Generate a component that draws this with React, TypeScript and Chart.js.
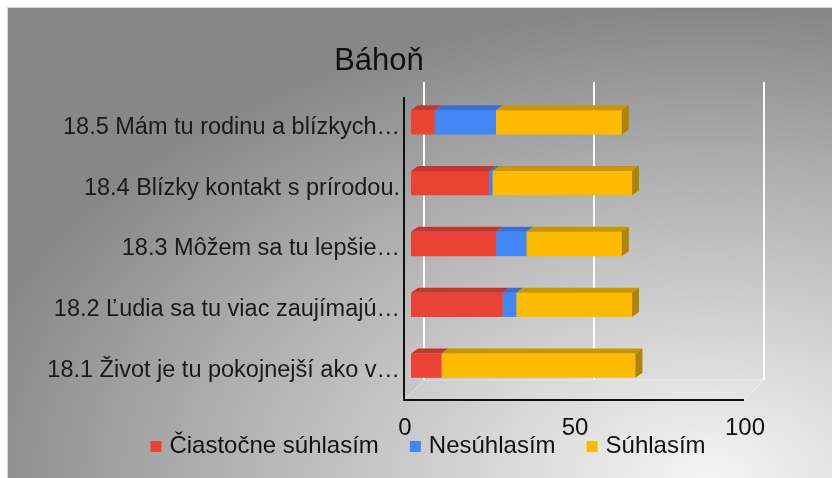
import React, { useEffect, useRef } from 'react';
import { Chart, registerables } from 'chart.js';

Chart.register(...registerables);

const TITLE = 'Báhoň';
const CATEGORIES = [
  '18.5 Mám tu rodinu a blízkych…',
  '18.4 Blízky kontakt s prírodou.',
  '18.3 Môžem sa tu lepšie…',
  '18.2 Ľudia sa tu viac zaujímajú…',
  '18.1 Život je tu pokojnejší ako v…',
];
const SERIES_NAMES = ['Čiastočne súhlasím', 'Nesúhlasím', 'Súhlasím'];
const PARTLY_AGREE = [7, 23, 25, 27, 9];
const DISAGREE = [18, 1, 9, 4, 0];
const AGREE = [37, 41, 28, 34, 57];
const X_TICKS = [0, 50, 100];

const FRONT = ['#EA4335', '#4285F4', '#FDBB00'];
const TOPC = ['#C2362B', '#3670D2', '#C99600'];
const SIDE = ['#A52D24', '#2C5CB0', '#B08300'];
const FONT = '"Liberation Sans", Arial, sans-serif';

const threeD = {
  id: 'threeD',
  beforeDatasetsDraw(chart: any) {
    const { ctx, chartArea: a, scales } = chart;
    const x = scales.x;
    const p0 = x.getPixelForValue(0);
    const p1 = x.getPixelForValue(100);
    ctx.save();
    // floor
    ctx.beginPath();
    ctx.moveTo(p0 - 7, a.bottom + 4);
    ctx.lineTo(p1 - 7, a.bottom + 4);
    ctx.lineTo(p1 + 13, a.bottom - 16);
    ctx.lineTo(p0 + 13, a.bottom - 16);
    ctx.closePath();
    ctx.fillStyle = 'rgba(255,255,255,0.1)';
    ctx.fill();
    ctx.strokeStyle = 'rgba(255,255,255,0.4)';
    ctx.lineWidth = 1;
    ctx.stroke();
    // left wall edge
    ctx.beginPath();
    ctx.moveTo(p0 + 13, a.top - 10);
    ctx.lineTo(p0 + 13, a.bottom - 16);
    ctx.stroke();
    // back wall gridlines
    ctx.strokeStyle = 'rgba(255,255,255,0.95)';
    ctx.lineWidth = 2;
    X_TICKS.forEach((v) => {
      const px = Math.round(x.getPixelForValue(v) + 13);
      ctx.beginPath();
      ctx.moveTo(px, a.top - 10);
      ctx.lineTo(px, a.bottom - 16);
      ctx.stroke();
    });
    ctx.restore();
  },
  afterDatasetsDraw(chart: any) {
    const { ctx, chartArea: a, scales } = chart;
    const x = scales.x;
    const DX = 7, DY = -5;
    ctx.save();
    const n = chart.data.labels.length;
    for (let j = 0; j < n; j++) {
      let lastIdx = -1;
      chart.data.datasets.forEach((ds: any, i: number) => {
        const el: any = chart.getDatasetMeta(i).data[j];
        const b = el.base, e = el.x;
        if (e - b < 0.5) return;
        lastIdx = i;
        const ty = el.y - el.height / 2;
        ctx.beginPath();
        ctx.moveTo(b, ty);
        ctx.lineTo(e, ty);
        ctx.lineTo(e + DX, ty + DY);
        ctx.lineTo(b + DX, ty + DY);
        ctx.closePath();
        ctx.fillStyle = TOPC[i];
        ctx.fill();
      });
      if (lastIdx >= 0) {
        const el: any = chart.getDatasetMeta(lastIdx).data[j];
        const e = el.x;
        const ty = el.y - el.height / 2;
        const by = el.y + el.height / 2;
        ctx.beginPath();
        ctx.moveTo(e, ty);
        ctx.lineTo(e + DX, ty + DY);
        ctx.lineTo(e + DX, by + DY);
        ctx.lineTo(e, by);
        ctx.closePath();
        ctx.fillStyle = SIDE[lastIdx];
        ctx.fill();
      }
    }
    // front axis lines
    const p0 = x.getPixelForValue(0) - 7;
    const p1 = x.getPixelForValue(100) - 7;
    ctx.strokeStyle = '#111';
    ctx.lineWidth = 2;
    ctx.beginPath();
    ctx.moveTo(p0, a.top + 5);
    ctx.lineTo(p0, a.bottom + 4);
    ctx.lineTo(p1, a.bottom + 4);
    ctx.stroke();
    // x tick labels
    ctx.fillStyle = '#111';
    ctx.font = `24px ${FONT}`;
    ctx.textAlign = 'center';
    ctx.textBaseline = 'alphabetic';
    X_TICKS.forEach((v) => {
      ctx.fillText(String(v), x.getPixelForValue(v) - 6, a.bottom + 39);
    });
    ctx.restore();
  },
  afterDraw(chart: any) {
    const { ctx, chartArea: a } = chart;
    ctx.save();
    // title
    ctx.fillStyle = '#111';
    ctx.font = `31px ${FONT}`;
    ctx.textAlign = 'center';
    ctx.textBaseline = 'alphabetic';
    ctx.fillText(TITLE, 371, 62);
    // legend
    ctx.font = `24px ${FONT}`;
    ctx.textAlign = 'left';
    const box = 11, gap = 8, spacing = 31;
    const items = chart.data.datasets.map((ds: any, i: number) => ({
      label: ds.label,
      color: FRONT[i],
      w: ctx.measureText(ds.label).width,
    }));
    const total = items.reduce((s: number, it: any) => s + box + gap + it.w, 0) + spacing * (items.length - 1);
    let cx = 420 - total / 2;
    const base = a.bottom + 57;
    items.forEach((it: any) => {
      ctx.fillStyle = it.color;
      ctx.fillRect(cx, base - 12, box, box);
      ctx.fillStyle = '#111';
      ctx.fillText(it.label, cx + box + gap, base);
      cx += box + gap + it.w + spacing;
    });
    ctx.restore();
  },
};

export default function App() {
  const ref = useRef<HTMLCanvasElement | null>(null);
  useEffect(() => {
    document.documentElement.style.overflow = 'hidden';
    if (!ref.current) return;
    const chart = new Chart(ref.current, {
      type: 'bar',
      data: {
        labels: CATEGORIES,
        datasets: [
          { label: SERIES_NAMES[0], data: PARTLY_AGREE, backgroundColor: FRONT[0] },
          { label: SERIES_NAMES[1], data: DISAGREE, backgroundColor: FRONT[1] },
          { label: SERIES_NAMES[2], data: AGREE, backgroundColor: FRONT[2] },
        ],
      },
      options: {
        indexAxis: 'y',
        responsive: false,
        animation: false,
        layout: { padding: { top: 84, bottom: 82, left: 0, right: 81 } },
        datasets: { bar: { barPercentage: 0.4, categoryPercentage: 1 } },
        plugins: { legend: { display: false }, title: { display: false }, tooltip: { enabled: false } },
        scales: {
          x: { display: false, stacked: true, min: 0, max: 100 },
          y: {
            stacked: true,
            grid: { display: false, drawTicks: false },
            border: { display: false },
            ticks: {
              padding: 11,
              labelOffset: 5,
              autoSkip: false,
              color: '#1a1a1a',
              font: { family: FONT, size: 23.5 },
            },
            afterFit(s: any) {
              s.width = 403;
            },
          },
        },
      } as any,
      plugins: [threeD],
    });
    return () => chart.destroy();
  }, []);
  return (
    <div
      style={{
        position: 'absolute',
        left: 8,
        top: 8,
        width: 824,
        height: 470,
        background:
          'radial-gradient(ellipse 760px 470px at 700px 470px, #f5f5f5 0%, #d0d0d0 35%, #aaaaaa 70%, #878787 100%)',
        boxShadow: '0 0 0 1px #dadada',
      }}
    >
      <canvas ref={ref} width={824} height={470} style={{ display: 'block' }} />
    </div>
  );
}
